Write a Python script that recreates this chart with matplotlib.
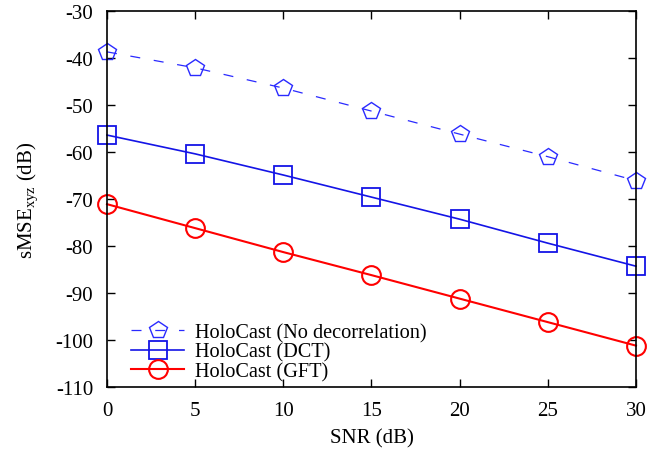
import numpy as np
import matplotlib.pyplot as plt

plt.rcParams['font.family'] = ['Liberation Serif', 'DejaVu Serif']
plt.rcParams['mathtext.fontset'] = 'custom'
plt.rcParams['mathtext.rm'] = 'Liberation Serif'
plt.rcParams['mathtext.it'] = 'Liberation Serif:italic'
plt.rcParams['axes.unicode_minus'] = False
plt.rcParams['font.size'] = 15

snr = [0, 5, 10, 15, 20, 25, 30]
no_decorr = [-38.7, -42.1, -46.4, -51.3, -56.2, -61.0, -66.1]
dct = [-56.4, -60.4, -64.9, -69.6, -74.3, -79.4, -84.3]
gft = [-71.1, -76.2, -81.3, -86.2, -91.2, -96.2, -101.2]

fig = plt.figure(figsize=(6.67, 4.52), dpi=100)
ax = fig.add_axes([0.1604, 0.1416, 0.7931, 0.8319])

ax.plot(snr, no_decorr, color='#2a2aff', ls=(0, (8, 11)), lw=0.9,
        marker='p', ms=13, mfc='none', mew=1.0, clip_on=False,
        label='HoloCast (No decorrelation)')
ax.plot(snr, dct, color='#1414e6', lw=1.2,
        marker='s', ms=13, mfc='none', mew=1.3, clip_on=False,
        label='HoloCast (DCT)')
ax.plot(snr, gft, color='#ff0000', lw=1.5,
        marker='o', ms=13.5, mfc='none', mew=1.5, clip_on=False,
        label='HoloCast (GFT)')

ax.set_xlim(0, 30)
ax.set_ylim(-110, -30)
ax.set_xticks(np.arange(0, 31, 5))
ax.set_yticks(np.arange(-110, -29, 10))
ax.tick_params(direction='in', top=True, right=True, length=6, width=1,
               pad=10, labelsize=15)
for s in ax.spines.values():
    s.set_linewidth(1.2)

ax.set_xlabel('SNR (dB)', labelpad=6)
ax.set_ylabel(r'sMSE$_{\mathrm{xyz}}$ (dB)', labelpad=11)

ax.legend(loc='lower left', bbox_to_anchor=(0.019, -0.022), frameon=False,
          handlelength=2.6, handletextpad=0.55, labelspacing=0.0,
          fontsize=14.6, borderaxespad=0.3)

fig.savefig('out.png', dpi=100)
